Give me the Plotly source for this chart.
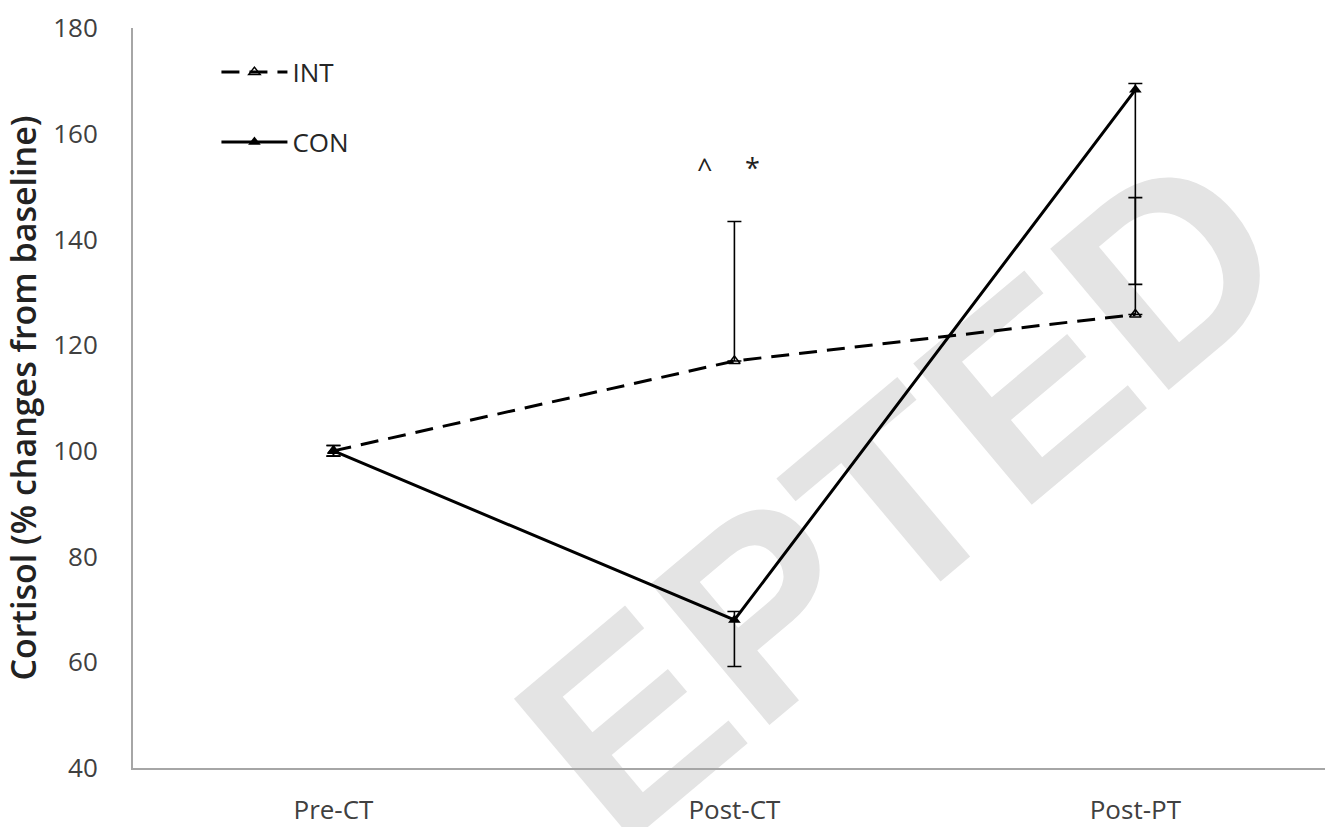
import plotly.graph_objects as go

# Time points and group means (% change from baseline)
categories = ["Pre-CT", "Post-CT", "Post-PT"]

int_mean = [100.0, 117.0, 125.8]
int_err_plus = [1.0, 26.4, 22.1]
int_err_minus = [1.0, 0.0, 0.0]

con_mean = [100.0, 68.0, 168.3]
con_err_plus = [1.0, 1.6, 1.2]
con_err_minus = [1.0, 8.8, 36.8]

# Significance markers above Post-CT
sig_labels = ["^", "*"]
sig_x = [0.925, 1.045]
sig_y = [153.6, 153.6]

x_pos = list(range(len(categories)))

font_family = "Open Sans, Noto Sans, DejaVu Sans, sans-serif"

fig = go.Figure()

fig.add_trace(go.Scatter(
    x=x_pos, y=int_mean, name="INT", legendgroup="int",
    mode="lines+markers",
    line=dict(color="black", width=3, dash="18px,10px"),
    marker=dict(symbol="triangle-up-open", size=10, color="black",
                line=dict(width=1.5, color="black")),
    error_y=dict(type="data", symmetric=False, array=int_err_plus,
                 arrayminus=int_err_minus, color="black",
                 thickness=1.6, width=7),
))

fig.add_trace(go.Scatter(
    x=x_pos, y=con_mean, name="CON", legendgroup="con",
    mode="lines+markers",
    line=dict(color="black", width=3),
    marker=dict(symbol="triangle-up", size=11, color="black"),
    error_y=dict(type="data", symmetric=False, array=con_err_plus,
                 arrayminus=con_err_minus, color="black",
                 thickness=1.6, width=7),
))

for lab, sx, sy in zip(sig_labels, sig_x, sig_y):
    fig.add_annotation(x=sx, y=sy, text=lab, showarrow=False,
                       font=dict(size=27, color="#222", family=font_family))

# Light watermark drawn underneath the data
fig.add_shape(
    type="line", xref="paper", yref="paper",
    x0=0.547, y0=0.292, x1=0.715, y1=0.503,
    line=dict(color="rgba(0,0,0,0)", width=0),
    layer="below",
    label=dict(text="EPTED", textposition="middle", yanchor="middle",
               textangle=-40,
               font=dict(size=268, color="#e4e4e4",
                         family="Liberation Sans, Arial, sans-serif",
                         weight=700)),
)

fig.update_layout(
    width=1325, height=827,
    margin=dict(l=133, r=0, t=28, b=57),
    paper_bgcolor="white",
    plot_bgcolor="rgba(0,0,0,0)",
    font=dict(family=font_family, color="#404040"),
    showlegend=True,
    legend=dict(x=0.07, y=0.972, xanchor="left", yanchor="top",
                bgcolor="rgba(0,0,0,0)", font=dict(size=26, color="#262626"),
                tracegroupgap=33, itemwidth=66, traceorder="grouped"),
    xaxis=dict(
        range=[-0.5, 2.473], tickmode="array", tickvals=x_pos,
        ticktext=categories, showgrid=False, zeroline=False,
        showline=True, linecolor="#a6a6a6", linewidth=2,
        ticks="", tickfont=dict(size=26, color="#404040"),
        ticklabelstandoff=18,
    ),
    yaxis=dict(
        range=[40, 180], tickmode="linear", tick0=40, dtick=20,
        showgrid=False, zeroline=False,
        showline=True, linecolor="#a6a6a6", linewidth=2,
        ticks="", tickfont=dict(size=26, color="#404040"),
        ticklabelstandoff=28,
        title=dict(text="Cortisol (% changes from baseline)",
                   font=dict(size=34, color="#222", weight=600),
                   standoff=8),
    ),
)

fig.write_html("out.html")
